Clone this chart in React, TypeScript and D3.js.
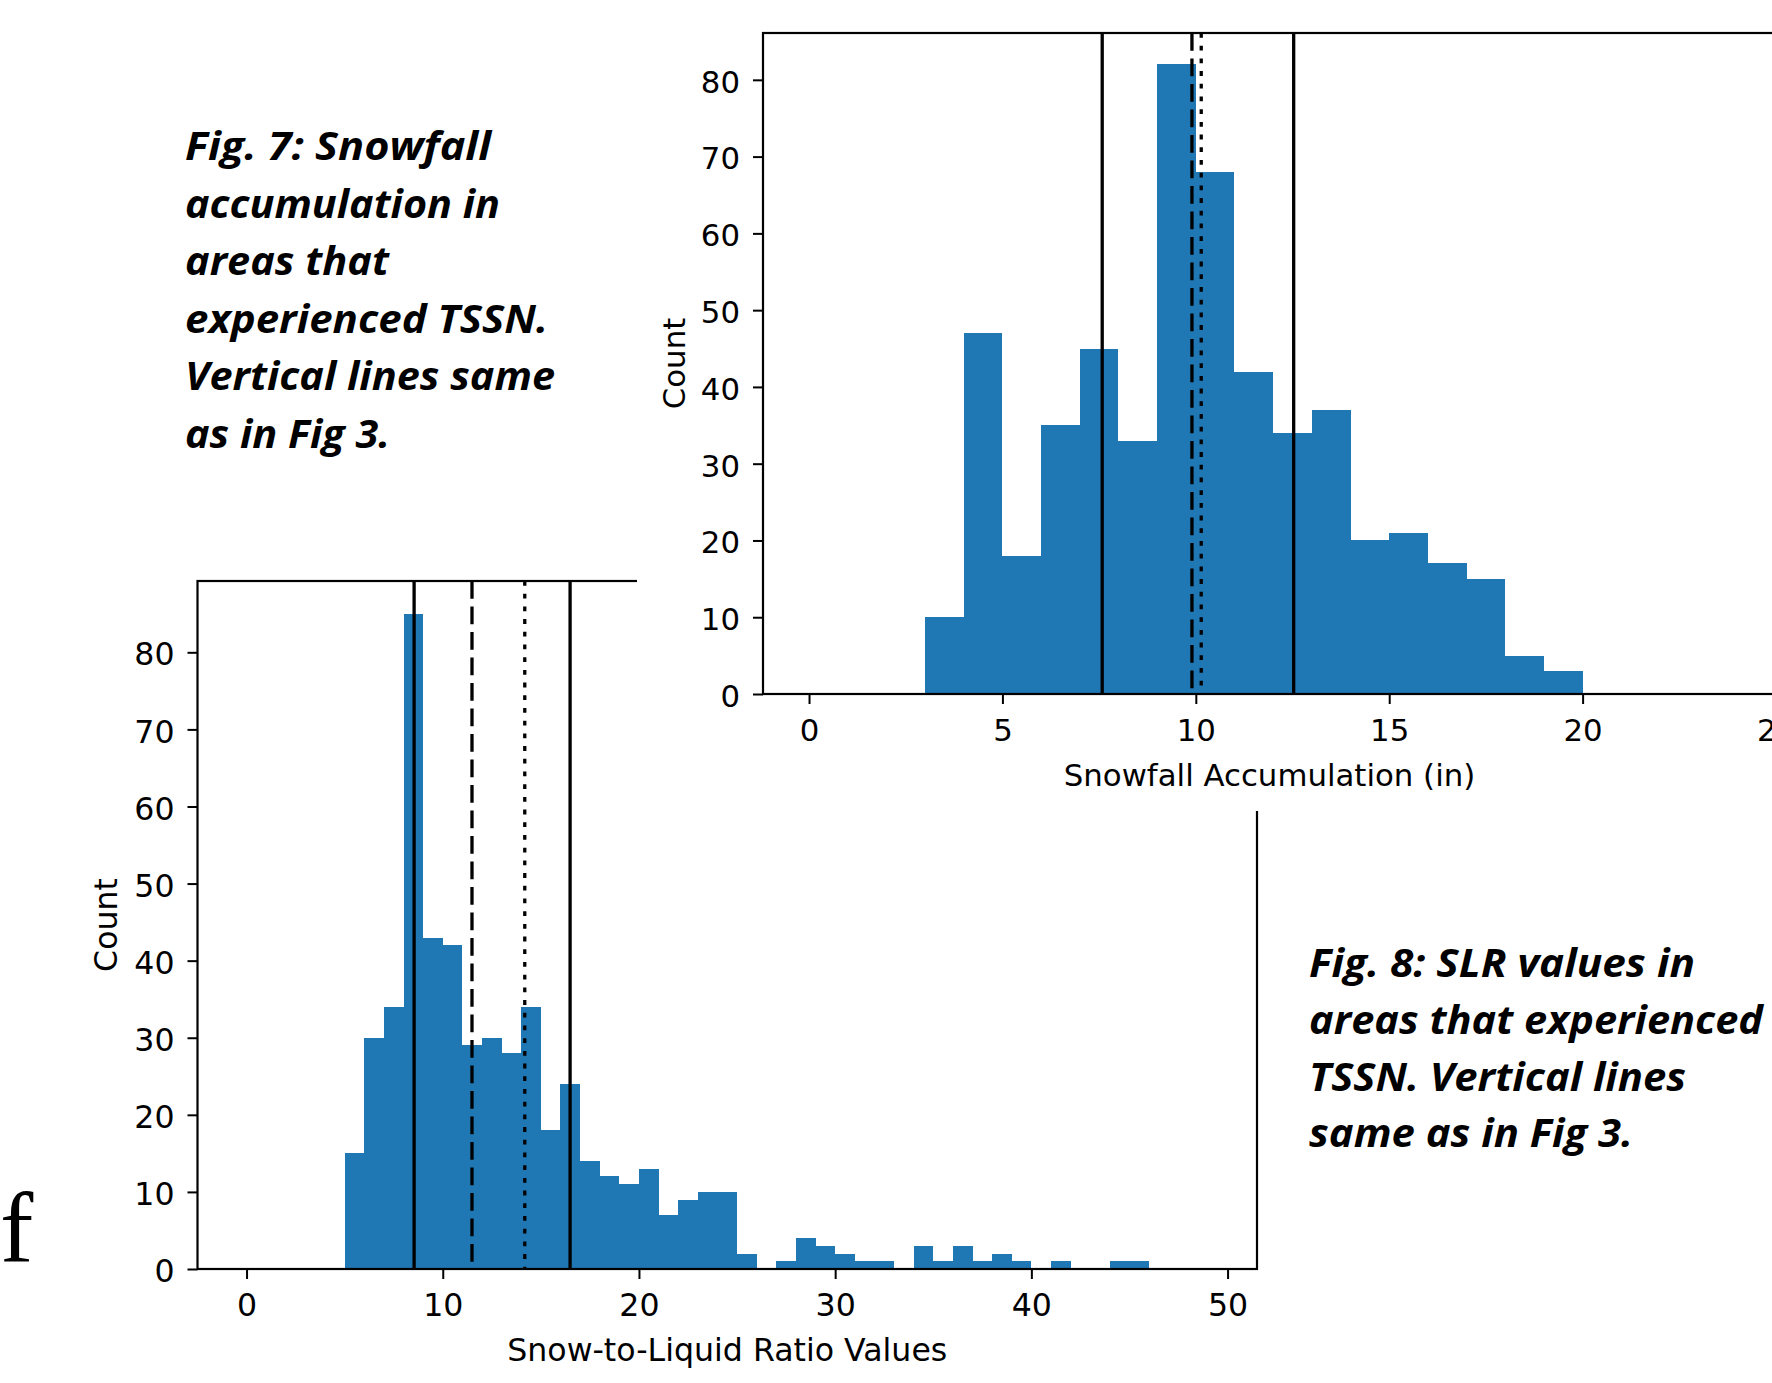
import React, { useEffect, useRef } from 'react';
import * as d3 from 'd3';

// Fig. 7: snowfall accumulation, 1-inch bins starting at 3 in
const snowBinStart = 3;
const snowCounts = [10, 47, 18, 35, 45, 33, 82, 68, 42, 34, 37, 20, 21, 17, 15, 5, 3];
const snowXTicks = [0, 5, 10, 15, 20, 25];
const snowLines = [
  { x: 7.58, style: 'solid' },
  { x: 9.9, style: 'dashed' },
  { x: 10.14, style: 'dotted' },
  { x: 12.53, style: 'solid' },
];

// Fig. 8: snow-to-liquid ratio, unit bins starting at 5
const slrBinStart = 5;
const slrCounts = [
  15, 30, 34, 85, 43, 42, 29, 30, 28, 34, 18, 24, 14, 12, 11, 13, 7, 9, 10, 10,
  2, 0, 1, 4, 3, 2, 1, 1, 0, 3, 1, 3, 1, 2, 1, 0, 1, 0, 0, 1, 1,
];
const slrXTicks = [0, 10, 20, 30, 40, 50];
const slrLines = [
  { x: 8.54, style: 'solid' },
  { x: 11.49, style: 'dashed' },
  { x: 14.18, style: 'dotted' },
  { x: 16.49, style: 'solid' },
];

const countTicks = [0, 10, 20, 30, 40, 50, 60, 70, 80];

const caption7 = [
  'Fig. 7: Snowfall',
  'accumulation in',
  'areas that',
  'experienced TSSN.',
  'Vertical lines same',
  'as in Fig 3.',
];
const caption8 = [
  'Fig. 8: SLR values in',
  'areas that experienced',
  'TSSN. Vertical lines',
  'same as in Fig 3.',
];

const W = 1772;
const H = 1383;
const BLUE = '#1f77b4';
const TICK_FONT = 'DejaVu Sans';
const dashes = { solid: null, dashed: '17.8,7.7', dotted: '4.8,7.9' };

// rendered line widths of the captions (the slide font is wider than what we have)
const caption7Widths = [306, 315, 204, 363, 370, 205];
const caption8Widths = [386, 454, 377, 324];

function drawHist(svg, o) {
  const x = d3.scaleLinear().domain(o.xDomain).range([o.left, o.right]);
  const y = d3.scaleLinear().domain([0, d3.max(o.counts) * 1.05]).range([o.bottom, o.top]);

  const g = svg.append('g');

  const bins = o.counts.map((c, i) => ({ x0: o.binStart + i, x1: o.binStart + i + 1, c }));
  g.selectAll('rect.bar')
    .data(bins.filter(d => d.c > 0))
    .join('rect')
    .attr('class', 'bar')
    .attr('x', d => x(d.x0))
    .attr('width', d => x(d.x1) - x(d.x0))
    .attr('y', d => y(d.c))
    .attr('height', d => y(0) - y(d.c))
    .attr('fill', BLUE)
    .attr('shape-rendering', 'crispEdges');

  g.selectAll('line.vline')
    .data(o.lines)
    .join('line')
    .attr('class', 'vline')
    .attr('x1', d => x(d.x))
    .attr('x2', d => x(d.x))
    .attr('y1', o.top)
    .attr('y2', o.bottom)
    .attr('stroke', '#000')
    .attr('stroke-width', 3.3)
    .attr('stroke-dasharray', d => dashes[d.style]);

  // spines
  g.append('rect')
    .attr('x', o.left)
    .attr('y', o.top)
    .attr('width', o.right - o.left)
    .attr('height', o.bottom - o.top)
    .attr('fill', 'none')
    .attr('stroke', '#000')
    .attr('stroke-width', 2.2);

  const xAxis = g.append('g')
    .attr('transform', `translate(0,${o.bottom})`)
    .call(d3.axisBottom(x).tickValues(o.xTicks).tickSize(10).tickFormat(d3.format('d')));
  const yAxis = g.append('g')
    .attr('transform', `translate(${o.left},0)`)
    .call(d3.axisLeft(y).tickValues(countTicks).tickSize(10).tickPadding(13).tickFormat(d3.format('d')));

  [xAxis, yAxis].forEach(a => {
    a.select('.domain').remove();
    a.attr('font-size', o.fontSize).attr('font-family', TICK_FONT);
    a.selectAll('.tick line').attr('stroke', '#000').attr('stroke-width', 2);
    a.selectAll('.tick text').attr('fill', '#000');
  });
  xAxis.selectAll('.tick text').attr('y', 47).attr('dy', null);
  yAxis.selectAll('.tick text').attr('dy', '0.4em');

  g.append('text')
    .attr('x', (o.left + o.right) / 2)
    .attr('y', o.bottom + 92)
    .attr('text-anchor', 'middle')
    .attr('font-family', TICK_FONT)
    .attr('font-size', o.fontSize)
    .text(o.xLabel);

  g.append('text')
    .attr('transform', `translate(${o.yLabelX},${(o.top + o.bottom) / 2}) rotate(-90)`)
    .attr('text-anchor', 'middle')
    .attr('font-family', TICK_FONT)
    .attr('font-size', o.fontSize)
    .text('Count');
}

function drawCaption(svg, lines, widths, x, y0, step) {
  svg.append('g')
    .selectAll('text')
    .data(lines)
    .join('text')
    .attr('x', x)
    .attr('y', (d, i) => y0 + i * step)
    .attr('font-family', 'Open Sans')
    .attr('font-weight', 700)
    .attr('font-style', 'italic')
    .attr('font-size', 40)
    .attr('fill', '#000')
    .attr('textLength', (d, i) => widths[i])
    .attr('lengthAdjust', 'spacingAndGlyphs')
    .text(d => d);
}

const App = () => {
  const svgRef = useRef();

  useEffect(() => {
    const svg = d3.select(svgRef.current);
    svg.selectAll('*').remove();

    svg.append('rect').attr('width', W).attr('height', H).attr('fill', '#fff');

    // lower figure (SLR)
    drawHist(svg, {
      left: 197.5, right: 1257, top: 581, bottom: 1269,
      xDomain: [-2.5, 51.5],
      counts: slrCounts, binStart: slrBinStart,
      lines: slrLines, xTicks: slrXTicks,
      xLabel: 'Snow-to-Liquid Ratio Values',
      yLabelX: 117,
      fontSize: 31.6,
    });

    // upper figure pasted over the lower one
    svg.append('rect').attr('x', 637).attr('y', 0).attr('width', W - 637).attr('height', 811).attr('fill', '#fff');

    drawHist(svg, {
      left: 763, right: 1776, top: 33, bottom: 694,
      xDomain: [-1.19, 25.0],
      counts: snowCounts, binStart: snowBinStart,
      lines: snowLines, xTicks: snowXTicks,
      xLabel: 'Snowfall Accumulation (in)',
      yLabelX: 685,
      fontSize: 30.8,
    });

    drawCaption(svg, caption7, caption7Widths, 185, 160, 57.5);
    drawCaption(svg, caption8, caption8Widths, 1309, 977, 56.8);

    svg.append('text')
      .attr('x', 0)
      .attr('y', 1262)
      .attr('font-family', 'Liberation Serif')
      .attr('font-size', 100)
      .text('f');
  }, []);

  return (
    <svg
      ref={svgRef}
      width={W}
      height={H}
      style={{ position: 'absolute', left: 0, top: 0, display: 'block' }}
    />
  );
};

export default App;
